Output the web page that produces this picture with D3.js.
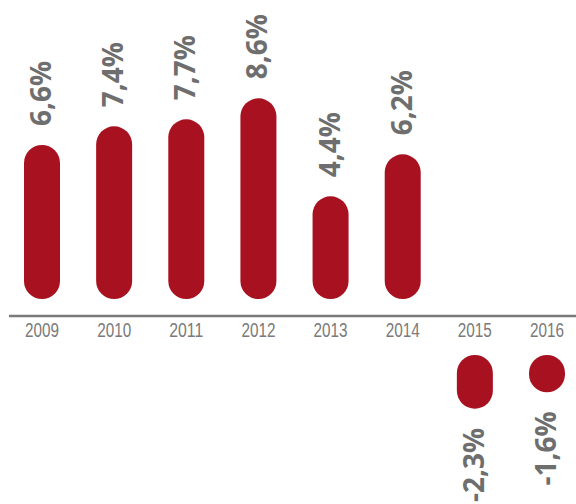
<!DOCTYPE html>
<html>
<head>
<meta charset="utf-8">
<script src="https://cdn.jsdelivr.net/npm/d3@7"></script>
<style>
  html, body { margin: 0; padding: 0; background: #fff; }
  svg { display: block; }
</style>
</head>
<body>
<svg id="chart" width="576" height="504"></svg>
<script>
const years = ["2009", "2010", "2011", "2012", "2013", "2014", "2015", "2016"];
const values = [6.6, 7.4, 7.7, 8.6, 4.4, 6.2, -2.3, -1.6];
const valueLabels = ["6,6%", "7,4%", "7,7%", "8,6%", "4,4%", "6,2%", "-2,3%", "-1,6%"];

const svg = d3.select("#chart");
const barColor = "#a8111f";
const labelColor = "#6e6e6e";

const x = d3.scalePoint().domain(years).range([42, 547]);
const barW = 36;

// positive bars grow up from just above the axis; negative bars grow down from below it
const posBase = 299, negBase = 355;
const h = d3.scaleLinear().domain([0, 8.6]).range([0, 200.7]);

const data = years.map((y, i) => ({ year: y, v: values[i], label: valueLabels[i] }));

// axis line
svg.append("line")
  .attr("x1", 9).attr("x2", 576)
  .attr("y1", 316).attr("y2", 316)
  .attr("stroke", "#7a7a7a").attr("stroke-width", 2.5);

// bars
svg.selectAll("rect.bar").data(data).enter().append("rect")
  .attr("class", "bar")
  .attr("x", d => x(d.year) - barW / 2)
  .attr("width", barW)
  .attr("y", d => d.v >= 0 ? posBase - h(d.v) : negBase)
  .attr("height", d => h(Math.abs(d.v)))
  .attr("rx", barW / 2).attr("ry", barW / 2)
  .attr("fill", barColor);

// value labels (rotated)
svg.selectAll("text.val").data(data).enter().append("text")
  .attr("class", "val")
  .attr("transform", d => {
    const ty = d.v >= 0 ? posBase - h(d.v) - 19 : negBase + h(Math.abs(d.v)) + 19;
    return `translate(${x(d.year) + 9},${ty}) rotate(-90)`;
  })
  .attr("text-anchor", d => d.v >= 0 ? "start" : "end")
  .attr("font-family", "'Open Sans', sans-serif")
  .attr("font-weight", "bold")
  .attr("font-size", 28)
  .attr("fill", labelColor)
  .text(d => d.label);

// year labels (condensed light look)
svg.selectAll("text.year").data(years).enter().append("text")
  .attr("class", "year")
  .attr("x", d => x(d))
  .attr("y", 337)
  .attr("text-anchor", "middle")
  .attr("font-family", "'Liberation Sans', sans-serif")
  .attr("font-size", 20)
  .attr("textLength", 34)
  .attr("lengthAdjust", "spacingAndGlyphs")
  .attr("fill", "#7a7a7a")
  .text(d => d);
</script>
</body>
</html>
